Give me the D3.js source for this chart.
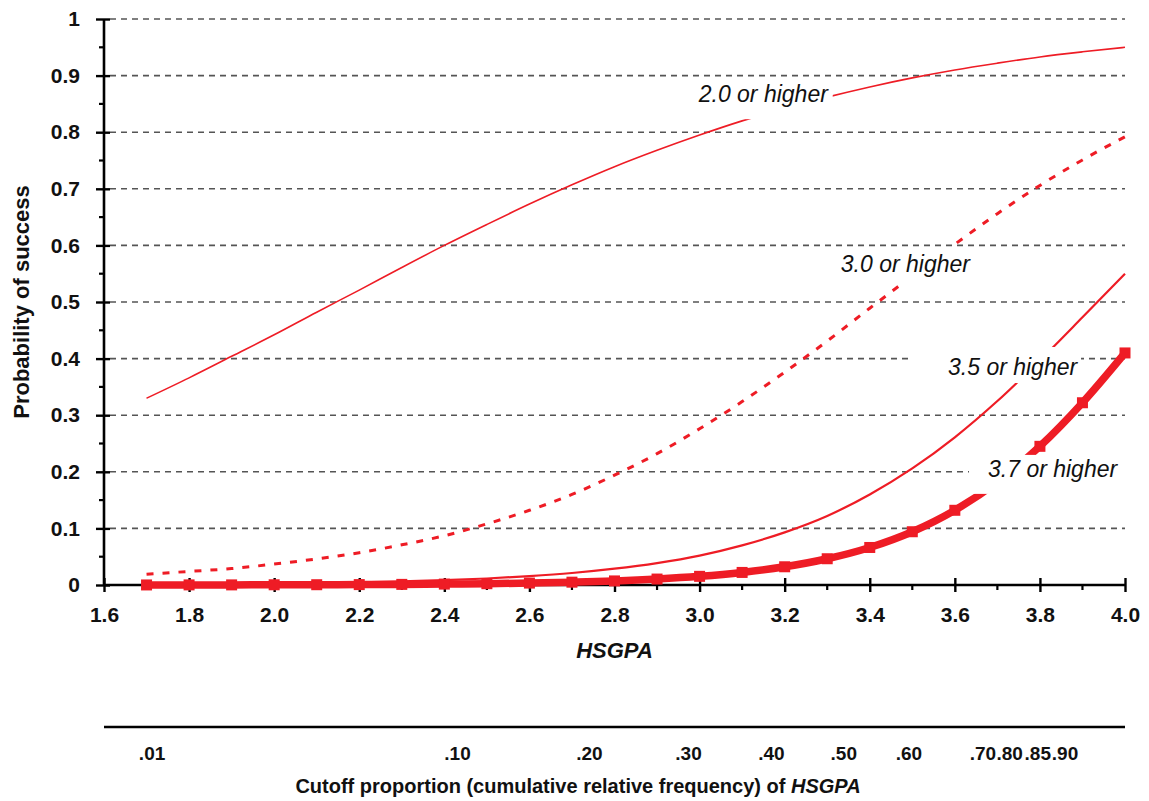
<!DOCTYPE html>
<html>
<head>
<meta charset="utf-8">
<script src="https://cdn.jsdelivr.net/npm/d3@7"></script>
<style>
  body { margin: 0; background: #fff; }
  svg { display: block; font-family: "Liberation Sans", Arial, sans-serif; }
</style>
</head>
<body>
<svg id="chart" width="1149" height="801"></svg>
<script>
// High-school GPA values at which the success probabilities are evaluated
const hsgpa = [1.7, 1.8, 1.9, 2.0, 2.1, 2.2, 2.3, 2.4, 2.5, 2.6, 2.7, 2.8,
               2.9, 3.0, 3.1, 3.2, 3.3, 3.4, 3.5, 3.6, 3.7, 3.8, 3.9, 4.0];

// Probability of success for each college-GPA criterion
const pGpa20 = [0.330, 0.366, 0.404, 0.442, 0.482, 0.521, 0.561, 0.600, 0.637, 0.673, 0.707, 0.739,
                0.768, 0.795, 0.820, 0.842, 0.862, 0.880, 0.896, 0.910, 0.922, 0.933, 0.942, 0.950];
const pGpa30 = [0.019, 0.024, 0.029, 0.037, 0.046, 0.057, 0.071, 0.087, 0.108, 0.132, 0.160, 0.194,
                0.232, 0.276, 0.324, 0.376, 0.431, 0.489, 0.546, 0.602, 0.656, 0.706, 0.751, 0.792];
const pGpa35 = [0.001, 0.0013, 0.0018, 0.0025, 0.0034, 0.0046, 0.0063, 0.0085, 0.0115, 0.0157, 0.0212, 0.0288,
                0.0388, 0.052, 0.070, 0.093, 0.122, 0.160, 0.206, 0.261, 0.325, 0.397, 0.473, 0.550];
const pGpa37 = [0.0001, 0.0002, 0.0002, 0.0004, 0.0005, 0.0007, 0.0011, 0.0016, 0.0023, 0.0034, 0.0050, 0.0072,
                0.0105, 0.0153, 0.0222, 0.0322, 0.0464, 0.0663, 0.0941, 0.132, 0.182, 0.245, 0.322, 0.410];

const seriesNames = ["2.0 or higher", "3.0 or higher", "3.5 or higher", "3.7 or higher"];

// Axis ticks
const yTicks = [0, 0.1, 0.2, 0.3, 0.4, 0.5, 0.6, 0.7, 0.8, 0.9, 1];
const yMinorTicks = [0.05, 0.15, 0.25, 0.35, 0.45, 0.55, 0.65, 0.75, 0.85, 0.95];
const xTicks = [1.6, 1.8, 2.0, 2.2, 2.4, 2.6, 2.8, 3.0, 3.2, 3.4, 3.6, 3.8, 4.0];
const xMinorTicks = [1.7, 1.9, 2.1, 2.3, 2.5, 2.7, 2.9, 3.1, 3.3, 3.5, 3.7, 3.9];

// Cumulative relative frequency of HSGPA, shown on the secondary scale
const cutoffLabels = [".01", ".10", ".20", ".30", ".40", ".50", ".60", ".70", ".80", ".85", ".90"];
const cutoffHsgpa = [1.713, 2.431, 2.741, 2.974, 3.169, 3.339, 3.492, 3.666, 3.729, 3.795, 3.859];

// ---- layout ----
const W = 1149, H = 801;
const plot = { left: 104, right: 1125, top: 19, bottom: 585 };
const red = "#ee1c25";
const labelFont = "23px";

const svg = d3.select("#chart");
svg.append("rect").attr("width", W).attr("height", H).attr("fill", "#fff");

const x = d3.scaleLinear().domain([1.6, 4.0]).range([plot.left, plot.right]);
const y = d3.scaleLinear().domain([0, 1]).range([plot.bottom, plot.top]);

// Horizontal dashed gridlines
svg.append("g").selectAll("line")
  .data(yTicks.filter(d => d > 0))
  .join("line")
  .attr("x1", plot.left + 6).attr("x2", plot.right)
  .attr("y1", d => y(d)).attr("y2", d => y(d))
  .attr("stroke", "#555").attr("stroke-width", 1.6)
  .attr("stroke-dasharray", "6 5");

// Curves
const pts = vals => hsgpa.map((g, i) => [g, vals[i]]);
const line = d3.line().x(d => x(d[0])).y(d => y(d[1])).curve(d3.curveMonotoneX);

const curves = svg.append("g");
curves.append("path").datum(pts(pGpa20))
  .attr("d", line).attr("fill", "none").attr("stroke", red).attr("stroke-width", 1.6);
curves.append("path").datum(pts(pGpa30))
  .attr("d", line).attr("fill", "none").attr("stroke", red).attr("stroke-width", 3)
  .attr("stroke-dasharray", "7 9");
curves.append("path").datum(pts(pGpa35))
  .attr("d", line).attr("fill", "none").attr("stroke", red).attr("stroke-width", 2.2);
curves.append("path").datum(pts(pGpa37))
  .attr("d", line).attr("fill", "none").attr("stroke", red).attr("stroke-width", 7.5);
curves.append("g").selectAll("rect")
  .data(pts(pGpa37))
  .join("rect")
  .attr("x", d => x(d[0]) - 5.5).attr("y", d => y(d[1]) - 5.5)
  .attr("width", 11).attr("height", 11).attr("fill", red);

// Curve labels on white boxes; anchor is the text start / baseline in data units
const labelPlacement = [
  { gx: 2.998, gp: 0.853, box: [-4, -22, 134, 17] },
  { gx: 3.332, gp: 0.553, box: [-4, -25, 136, 12] },
  { gx: 3.584, gp: 0.371, box: [-39, -28, 133, 8] },
  { gx: 3.678, gp: 0.191, box: [-19, -22, 145, 17] }
];
const labels = svg.append("g");
seriesNames.forEach((name, i) => {
  const p = labelPlacement[i];
  const ax = x(p.gx), ay = y(p.gp);
  labels.append("rect")
    .attr("x", ax + p.box[0]).attr("y", ay + p.box[1])
    .attr("width", p.box[2] - p.box[0]).attr("height", p.box[3] - p.box[1])
    .attr("fill", "#fff");
  labels.append("text")
    .attr("x", ax).attr("y", ay)
    .attr("font-size", labelFont).attr("font-style", "italic")
    .attr("fill", "#111")
    .text(name);
});

// Y axis
const yAxis = svg.append("g").attr("transform", `translate(${plot.left},0)`)
  .call(d3.axisLeft(y).tickValues(yTicks).tickSize(8).tickPadding(16)
    .tickFormat(d => d3.format("")(+d.toFixed(1))));
yAxis.select(".domain").attr("stroke", "#000").attr("stroke-width", 2.6)
  .attr("d", `M0,${plot.bottom}V${plot.top}`);
yAxis.selectAll(".tick line").attr("x1", 6).attr("x2", -8)
  .attr("stroke", "#000").attr("stroke-width", 2.4);
yAxis.selectAll(".tick text")
  .attr("font-size", "21px").attr("font-weight", "bold").attr("fill", "#111")
  .attr("font-family", "Liberation Sans, Arial, sans-serif");
yAxis.append("g").selectAll("line").data(yMinorTicks).join("line")
  .attr("x1", -5).attr("x2", 0).attr("y1", d => y(d)).attr("y2", d => y(d))
  .attr("stroke", "#000").attr("stroke-width", 2.2);

// X axis
const xAxis = svg.append("g").attr("transform", `translate(0,${plot.bottom})`)
  .call(d3.axisBottom(x).tickValues(xTicks).tickSize(7).tickPadding(15)
    .tickFormat(d3.format(".1f")));
xAxis.select(".domain").attr("stroke", "#000").attr("stroke-width", 2.6)
  .attr("d", `M${plot.left},0H${plot.right}`);
xAxis.selectAll(".tick line").attr("y1", -7).attr("y2", 7)
  .attr("stroke", "#000").attr("stroke-width", 2.4);
xAxis.selectAll(".tick text")
  .attr("font-size", "21px").attr("font-weight", "bold").attr("fill", "#111")
  .attr("font-family", "Liberation Sans, Arial, sans-serif");
xAxis.append("g").selectAll("line").data(xMinorTicks).join("line")
  .attr("x1", d => x(d)).attr("x2", d => x(d)).attr("y1", 0).attr("y2", 5)
  .attr("stroke", "#000").attr("stroke-width", 2.2);

// Keep the curves lying along the x axis above it, and the labels above the curves
curves.raise();
labels.raise();

// Axis titles
svg.append("text")
  .attr("transform", `translate(29,${(plot.top + plot.bottom) / 2}) rotate(-90)`)
  .attr("text-anchor", "middle").attr("font-size", "22px").attr("font-weight", "bold")
  .attr("fill", "#111").text("Probability of success");

svg.append("text")
  .attr("x", (plot.left + plot.right) / 2).attr("y", 658)
  .attr("text-anchor", "middle").attr("font-size", "22px")
  .attr("font-weight", "bold").attr("font-style", "italic")
  .attr("fill", "#111").text("HSGPA");

// Secondary scale: cumulative relative frequency
const sec = svg.append("g");
sec.append("line")
  .attr("x1", plot.left).attr("x2", plot.right)
  .attr("y1", 727).attr("y2", 727)
  .attr("stroke", "#000").attr("stroke-width", 2.6);
sec.selectAll("text.cut").data(cutoffLabels).join("text")
  .attr("class", "cut")
  .attr("x", (d, i) => x(cutoffHsgpa[i])).attr("y", 760)
  .attr("text-anchor", "middle").attr("font-size", "19px").attr("font-weight", "bold")
  .attr("fill", "#111").text(d => d);

const bt = sec.append("text")
  .attr("x", 578).attr("y", 793)
  .attr("text-anchor", "middle").attr("font-size", "20px").attr("font-weight", "bold")
  .attr("fill", "#111");
bt.append("tspan").text("Cutoff proportion (cumulative relative frequency) of ");
bt.append("tspan").attr("font-style", "italic").text("HSGPA");
</script>
</body>
</html>
